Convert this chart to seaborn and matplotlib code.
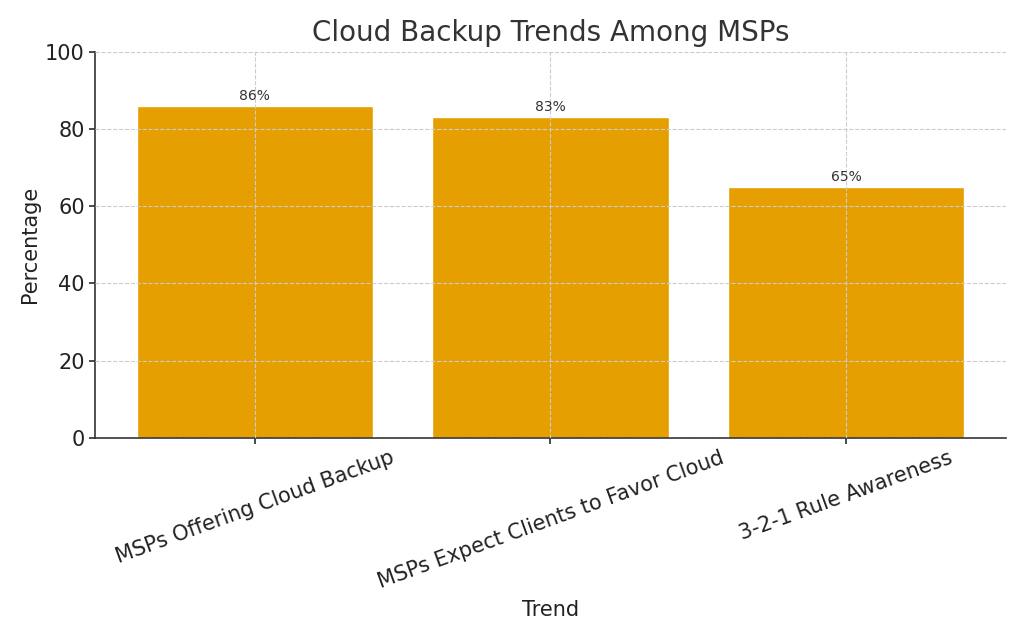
import matplotlib
matplotlib.use("Agg")
import matplotlib.pyplot as plt
import seaborn as sns
import pandas as pd

categories = ["MSPs Offering Cloud Backup", "MSPs Expect Clients to Favor Cloud", "3-2-1 Rule Awareness"]
values = [86, 83, 65]

sns.set_theme(style="white")
plt.rcParams['font.family'] = ['DejaVu Sans']

df = pd.DataFrame({"Trend": categories, "Percentage": values})

fig = plt.figure(figsize=(10.24, 6.4), dpi=100)
ax = fig.add_axes([0.093, 0.316, 0.889, 0.603])
sns.barplot(data=df, x="Trend", y="Percentage", color="#E69F00", saturation=1, width=0.8, ax=ax)

ax.set_xlim(-0.54, 2.54)
ax.set_ylim(0, 100)
ax.set_yticks([0, 20, 40, 60, 80, 100])
ax.grid(True, linestyle="--", color="#cccccc", linewidth=0.8)
ax.set_axisbelow(False)
for s in ["top", "right"]:
    ax.spines[s].set_visible(False)
for s in ["left", "bottom"]:
    ax.spines[s].set_color("#333333")
    ax.spines[s].set_linewidth(1.2)
ax.tick_params(axis="both", labelsize=15, colors="#333333", length=4, bottom=True, left=True)
ax.tick_params(axis="x", pad=3)
for lbl in ax.get_xticklabels():
    lbl.set_rotation(20)
    lbl.set_ha("center")
for lbl in ax.get_xticklabels() + ax.get_yticklabels():
    lbl.set_color("#222222")

for p, v in zip(ax.patches, values):
    ax.text(p.get_x() + p.get_width() / 2, v + 0.8, f"{v}%", ha="center", va="bottom", fontsize=10, color="#333333")

ax.set_title("Cloud Backup Trends Among MSPs", fontsize=20, color="#333333", pad=8)
ax.set_xlabel("Trend", fontsize=15, color="#222222", labelpad=6)
ax.set_ylabel("Percentage", fontsize=15, color="#222222")

fig.savefig("out.png", dpi=100)
